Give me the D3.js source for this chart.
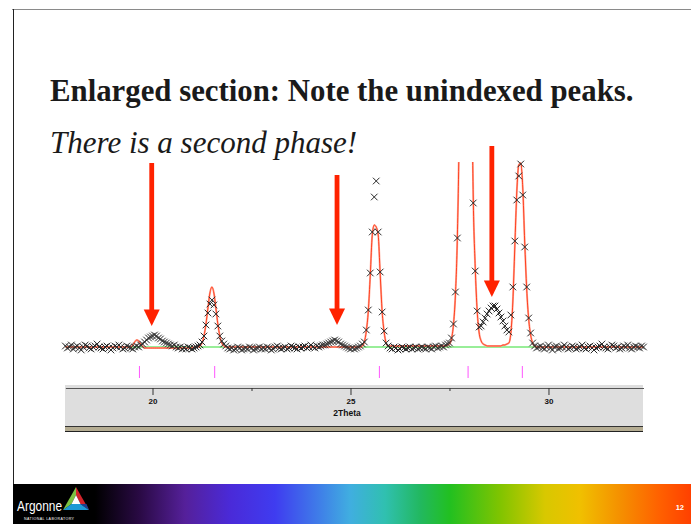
<!DOCTYPE html>
<html>
<head>
<meta charset="utf-8">
<script src="https://cdn.jsdelivr.net/npm/d3@7"></script>
<style>
  body { margin: 0; background: #fff; }
  svg { display: block; }
</style>
</head>
<body>
<script>
const svgWidth = 691;
const svgHeight = 524;

// scan sampling in 2Theta (deg)
const scanStart = 17.8;
const scanStep = 0.05;

// observed counts, one row per degree (17.80 ... 32.40)
const obsCounts = [
  101, 99, 100, 102, 98, 100, 101, 99, 97, 100, 102, 101, 99, 98, 100, 101, 103, 100, 99, 98,
  100, 101, 99, 97, 99, 101, 100, 102, 100, 98, 99, 101, 100, 99, 98, 100, 101, 100, 102, 103,
  105, 107, 109, 110, 111, 112, 111, 109, 108, 106, 105, 104, 103, 102, 101, 102, 100, 99, 100, 98,
  99, 98, 100, 99, 98, 99, 100, 101, 102, 105, 111, 122, 134, 143, 147, 142, 133, 121, 111, 106,
  103, 101, 99, 98, 99, 97, 98, 100, 99, 97, 98, 99, 98, 100, 99, 97, 98, 99, 100, 98,
  99, 98, 100, 99, 97, 98, 100, 101, 99, 98, 99, 100, 98, 99, 101, 100, 99, 98, 100, 99,
  100, 101, 99, 100, 102, 100, 99, 101, 100, 101, 102, 102, 103, 104, 105, 106, 107, 106, 105, 103,
  102, 101, 100, 99, 98, 99, 98, 99, 100, 101, 103, 105, 117, 137, 174, 215, 250, 266, 215, 175,
  135, 116, 104, 101, 99, 98, 100, 99, 97, 98, 100, 99, 98, 99, 100, 98, 99, 100, 98, 99,
  100, 99, 98, 100, 99, 98, 100, 101, 99, 100, 101, 100, 102, 103, 104, 109, 123, 155, 209, 330,
  600, 900, 1050, 980, 700, 380, 244, 176, 136, 120, 121, 125, 129, 133, 136, 139, 141, 141, 138, 134,
  130, 126, 121, 117, 115, 132, 160, 206, 247, 271, 283, 252, 200, 160, 129, 114, 104, 101, 99, 100,
  101, 99, 98, 100, 102, 99, 97, 100, 101, 98, 99, 100, 102, 100, 98, 99, 101, 100, 98, 99,
  100, 102, 99, 98, 100, 101, 99, 97, 99, 100, 101, 103, 100, 99, 98, 100, 102, 101, 99, 100,
  98, 99, 101, 100, 102, 99, 98, 100, 101, 100, 99, 101, 100
];

// calculated profile on the same steps
const calcCounts = [
  100, 100, 100, 100, 100, 100, 100, 100, 100, 100, 100, 100, 100, 100, 100, 100, 100, 100, 100, 100,
  100, 100, 100, 100, 100, 100, 100, 100, 100, 100, 100, 100, 100, 100, 102, 105, 107, 106, 103, 101,
  99, 99, 99, 99, 99, 99, 99, 99, 99, 99, 99, 99, 99, 99, 99, 99, 99, 99, 99, 99,
  99, 99, 99, 99, 99, 100, 100, 100, 101, 104, 111, 123, 139, 154, 160, 154, 139, 123, 111, 104,
  101, 100, 100, 100, 100, 100, 100, 100, 100, 100, 100, 100, 100, 100, 100, 100, 100, 100, 100, 100,
  100, 100, 100, 100, 100, 100, 100, 100, 100, 100, 100, 100, 100, 100, 100, 100, 100, 100, 100, 100,
  100, 100, 100, 100, 100, 100, 100, 100, 100, 100, 100, 100, 100, 100, 100, 100, 100, 100, 100, 100,
  100, 100, 100, 100, 100, 100, 100, 100, 100, 100, 101, 105, 116, 136, 172, 212, 222, 220, 212, 173,
  135, 115, 104, 101, 101, 101, 101, 101, 101, 101, 101, 101, 101, 101, 101, 101, 101, 101, 101, 101,
  101, 101, 101, 101, 101, 101, 101, 101, 101, 101, 101, 101, 101, 102, 103, 108, 122, 152, 212, 340,
  650, 950, 1100, 1020, 760, 420, 250, 180, 136, 114, 106, 103, 102, 101, 101, 101, 101, 101, 101, 101,
  101, 102, 102, 103, 104, 114, 145, 200, 255, 282, 284, 260, 205, 158, 128, 112, 104, 101, 100, 100,
  100, 100, 100, 100, 100, 100, 100, 100, 100, 100, 100, 100, 100, 100, 100, 100, 100, 100, 100, 100,
  100, 100, 100, 100, 100, 100, 100, 100, 100, 100, 100, 100, 100, 100, 100, 100, 100, 100, 100, 100,
  100, 100, 100, 100, 100, 100, 100, 100, 100, 100, 100, 100, 100
];

const bkgTheta = [17.8, 32.4];
const bkgCounts = [100, 100];

// reflection markers of the indexed phase
const reflTheta = [19.67, 21.57, 25.73, 27.97, 29.34];

const majorTicks = [20, 25, 30];
const minorTicks = [22.5, 27.5];
const xTitle = '2Theta';

// arrows pointing at the unindexed peaks
const arrowTheta = [19.98, 24.66, 28.57];
const arrowTop = [284, 272, 301];
const arrowTip = [121, 122, 150];

const titleText = 'Enlarged section: Note the unindexed peaks.';
const subText = 'There is a second phase!';
const pageNumber = '12';

const theta = obsCounts.map((d, i) => +(scanStart + i * scanStep).toFixed(2));

const svg = d3.select('body').append('svg')
  .attr('width', svgWidth)
  .attr('height', svgHeight);

// slide frame
svg.append('line')
  .attr('x1', 12).attr('x2', svgWidth).attr('y1', 9.5).attr('y2', 9.5)
  .attr('stroke', '#8a8a8a').attr('stroke-width', 1.2);
svg.append('line')
  .attr('x1', 13.5).attr('x2', 13.5).attr('y1', 9).attr('y2', 484)
  .attr('stroke', '#222');

svg.append('text')
  .attr('x', 50).attr('y', 101)
  .attr('font-family', 'Liberation Serif, Times New Roman, serif')
  .attr('font-weight', 'bold')
  .attr('font-size', 30.8)
  .attr('fill', '#1a1a1a')
  .text(titleText);

svg.append('text')
  .attr('x', 50).attr('y', 153)
  .attr('font-family', 'Liberation Serif, Times New Roman, serif')
  .attr('font-style', 'italic')
  .attr('font-size', 31)
  .attr('fill', '#1a1a1a')
  .text(subText);

// scales
const xScale = d3.scaleLinear()
  .domain([17.8, 32.4])
  .range([65.4, 643.5]);

const yScale = d3.scaleLinear()
  .domain([100, 285])
  .range([347, 162]);

svg.append('clipPath').attr('id', 'plotClip')
  .append('rect')
  .attr('x', 60).attr('y', 162).attr('width', 590).attr('height', 200);

const plot = svg.append('g').attr('clip-path', 'url(#plotClip)');

// observed points as crosses
const obsData = theta.map((t, i) => ({ t, v: obsCounts[i] }))
  .filter(d => yScale(d.v) >= 160);

svg.append('g').selectAll('path')
  .data(obsData)
  .enter()
  .append('path')
  .attr('transform', d => `translate(${xScale(d.t)},${yScale(d.v)})`)
  .attr('d', 'M-3.3,-3.3L3.3,3.3M-3.3,3.3L3.3,-3.3')
  .attr('fill', 'none')
  .attr('stroke', '#2a2a2a')
  .attr('stroke-width', 1);

// background
const line = d3.line()
  .x(d => xScale(d[0]))
  .y(d => yScale(d[1]));

plot.append('path')
  .datum(bkgTheta.map((t, i) => [t, bkgCounts[i]]))
  .attr('d', line)
  .attr('fill', 'none')
  .attr('stroke', '#33dd33')
  .attr('stroke-width', 1);

// calculated profile
const calcLine = d3.line()
  .curve(d3.curveMonotoneX)
  .x(d => xScale(d[0]))
  .y(d => yScale(d[1]));

const calcData = theta.map((t, i) => [t, calcCounts[i]]);

plot.append('path')
  .datum(calcData)
  .attr('d', calcLine)
  .attr('fill', 'none')
  .attr('stroke', '#ffb0a0')
  .attr('stroke-width', 2);

plot.append('path')
  .datum(calcData)
  .attr('d', calcLine)
  .attr('fill', 'none')
  .attr('stroke', '#ff3311')
  .attr('stroke-width', 0.9);

// reflection ticks
svg.append('g').selectAll('line')
  .data(reflTheta)
  .enter()
  .append('line')
  .attr('x1', d => xScale(d)).attr('x2', d => xScale(d))
  .attr('y1', 366).attr('y2', 378)
  .attr('stroke', '#ff55ff')
  .attr('stroke-width', 1);

// axis panel
svg.append('rect')
  .attr('x', 65).attr('y', 385).attr('width', 578).attr('height', 41)
  .attr('fill', '#dedede');
svg.append('rect')
  .attr('x', 65).attr('y', 426).attr('width', 578).attr('height', 5)
  .attr('fill', '#b4ac92');
svg.append('line')
  .attr('x1', 65).attr('x2', 643).attr('y1', 426.5).attr('y2', 426.5)
  .attr('stroke', '#333');
svg.append('line')
  .attr('x1', 65).attr('x2', 643).attr('y1', 431.5).attr('y2', 431.5)
  .attr('stroke', '#222');

const xAxis = d3.axisBottom(xScale)
  .tickValues(majorTicks)
  .tickSize(7)
  .tickSizeOuter(0)
  .tickPadding(3)
  .tickFormat(d3.format('d'));

const axisG = svg.append('g')
  .attr('transform', 'translate(0, 388)')
  .call(xAxis);
axisG.select('.domain').attr('stroke', '#555');
axisG.selectAll('.tick line').attr('stroke', '#333');
axisG.selectAll('.tick text')
  .attr('font-family', 'Liberation Sans, Arial, sans-serif')
  .attr('font-weight', 'bold')
  .attr('font-size', 8)
  .attr('fill', '#111');

const minorAxis = svg.append('g')
  .attr('transform', 'translate(0, 388)')
  .call(d3.axisBottom(xScale).tickValues(minorTicks).tickSize(3).tickFormat(''));
minorAxis.select('.domain').remove();
minorAxis.selectAll('.tick line').attr('stroke', '#333');

svg.append('text')
  .attr('x', 347).attr('y', 416)
  .attr('text-anchor', 'middle')
  .attr('font-family', 'Liberation Sans, Arial, sans-serif')
  .attr('font-weight', 'bold')
  .attr('font-size', 8.5)
  .attr('fill', '#111')
  .text(xTitle);

// arrows
const headLen = 16.5;
const arrows = svg.append('g').attr('fill', '#ff2200');
arrowTheta.forEach((t, i) => {
  const x = xScale(t);
  const yTop = yScale(arrowTop[i]);
  const yTip = yScale(arrowTip[i]);
  arrows.append('rect')
    .attr('x', x - 2.4).attr('y', yTop)
    .attr('width', 4.8).attr('height', yTip - headLen - yTop + 1);
  arrows.append('path')
    .attr('d', `M${x - 8},${yTip - headLen}L${x + 8},${yTip - headLen}L${x},${yTip}Z`);
});

// footer banner
const grad = svg.append('defs').append('linearGradient')
  .attr('id', 'banner')
  .attr('gradientUnits', 'userSpaceOnUse')
  .attr('x1', 13).attr('x2', svgWidth).attr('y1', 0).attr('y2', 0);
const stops = [
  [13, '#000000'], [95, '#000000'], [140, '#2a0a45'], [185, '#55209a'],
  [230, '#4a2ad8'], [275, '#3f3cf0'], [320, '#3f7fe8'], [350, '#40aee0'],
  [385, '#30c0b0'], [420, '#22b860'], [450, '#22c020'], [500, '#80c400'],
  [545, '#d8c800'], [580, '#f0c000'], [620, '#f59000'], [660, '#ff6000'], [691, '#ff4000']
];
stops.forEach(s => {
  grad.append('stop')
    .attr('offset', (s[0] - 13) / (svgWidth - 13))
    .attr('stop-color', s[1]);
});
svg.append('rect')
  .attr('x', 13).attr('y', 484).attr('width', svgWidth - 13).attr('height', 40)
  .attr('fill', 'url(#banner)');

svg.append('text')
  .attr('x', 17).attr('y', 511)
  .attr('font-family', 'Liberation Sans, Arial, sans-serif')
  .attr('font-size', 15)
  .attr('textLength', 45)
  .attr('lengthAdjust', 'spacingAndGlyphs')
  .attr('fill', '#fff')
  .text('Argonne');
svg.append('text')
  .attr('x', 24).attr('y', 520)
  .attr('font-family', 'Liberation Sans, Arial, sans-serif')
  .attr('font-size', 3.6)
  .attr('textLength', 50)
  .attr('fill', '#fff')
  .text('NATIONAL LABORATORY');

// logo triangle
const logo = svg.append('g');
const T = [76, 487], L = [63, 510], R = [89, 510];
const t = [76, 495], l = [71.5, 504], r = [80.5, 504];
const poly = pts => 'M' + pts.map(p => p.join(',')).join('L') + 'Z';
logo.append('path').attr('d', poly([T, L, l, t])).attr('fill', '#7cc242');
logo.append('path').attr('d', poly([T, R, r, t])).attr('fill', '#d2232a');
logo.append('path').attr('d', poly([L, R, r, l])).attr('fill', '#1d9ad6');
logo.append('path').attr('d', poly([r, R, [86.5, 504]])).attr('fill', '#1b3f8f');
logo.append('path').attr('d', poly([t, l, r])).attr('fill', '#fff');

svg.append('text')
  .attr('x', 684).attr('y', 510)
  .attr('text-anchor', 'end')
  .attr('font-family', 'Liberation Sans, Arial, sans-serif')
  .attr('font-weight', 'bold')
  .attr('font-size', 7.5)
  .attr('fill', '#fff')
  .text(pageNumber);
</script>
</body>
</html>
